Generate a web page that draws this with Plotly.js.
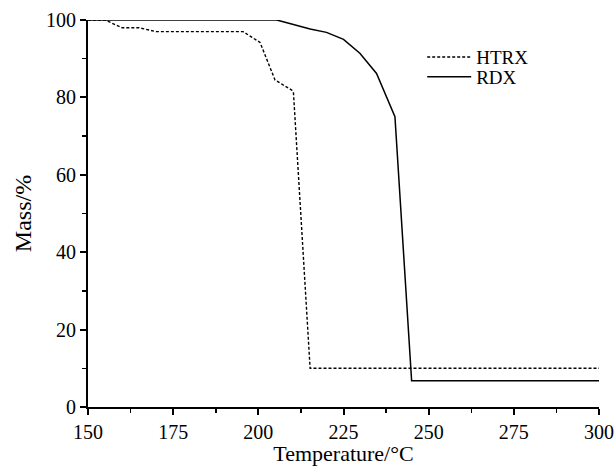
<!DOCTYPE html>
<html>
<head>
<meta charset="utf-8">
<script src="https://cdn.plot.ly/plotly-3.0.1.min.js"></script>
<style>html,body{margin:0;padding:0;background:#fff;}#chart{width:615px;height:466px;}</style>
</head>
<body>
<div id="chart"></div>
<script>
const htrxTemp = [150, 155, 160, 165, 170, 195.5, 200.5, 204.9, 209.8, 210.3, 215.2, 300];
const htrxMass = [100, 100, 98, 98, 97, 97, 94.2, 84.5, 81.9, 81.4, 10, 10];
const rdxTemp = [150, 205.4, 215.2, 220, 225, 229.8, 234.7, 240.1, 245, 300];
const rdxMass = [100, 100, 97.7, 96.8, 95, 91.4, 86.2, 75, 6.8, 6.8];
const seriesNames = ['HTRX', 'RDX'];
const xTicks = [150, 175, 200, 225, 250, 275, 300];
const yTicks = [0, 20, 40, 60, 80, 100];

const font = {family: '"Liberation Serif", "Times New Roman", serif', color: '#000'};

const traces = [
  {x: htrxTemp, y: htrxMass, name: seriesNames[0], mode: 'lines', legend: 'legend',
   line: {color: '#000', width: 1.4, dash: '3px,2px'}},
  {x: rdxTemp, y: rdxMass, name: seriesNames[1], mode: 'lines', legend: 'legend2',
   line: {color: '#000', width: 1.5}}
];

const legendBase = {x: 0.654, xanchor: 'left', yanchor: 'middle',
  bgcolor: 'rgba(0,0,0,0)', font: Object.assign({size: 19}, font), itemwidth: 44};

const layout = {
  width: 615, height: 466,
  margin: {l: 88, r: 16, t: 20, b: 59},
  paper_bgcolor: '#fff', plot_bgcolor: '#fff',
  font: Object.assign({size: 19}, font),
  showlegend: true,
  legend: Object.assign({y: 0.904}, legendBase),
  legend2: Object.assign({y: 0.853}, legendBase),
  xaxis: {
    range: [150, 300], tickvals: xTicks, ticktext: xTicks.map(String),
    showgrid: false, zeroline: false, showline: true, linecolor: '#000', linewidth: 2,
    ticks: 'outside', ticklen: 6, tickwidth: 2, tickcolor: '#000',
    minor: {dtick: 12.5, tick0: 150, ticks: 'outside', ticklen: 4, tickwidth: 1.5, tickcolor: '#000', showgrid: false},
    tickfont: Object.assign({size: 20}, font),
    title: {text: 'Temperature/°C', font: Object.assign({size: 22}, font), standoff: 7}
  },
  yaxis: {
    range: [0, 100], tickvals: yTicks, ticktext: yTicks.map(String),
    showgrid: false, zeroline: false, showline: true, linecolor: '#000', linewidth: 2,
    ticks: 'outside', ticklen: 6, tickwidth: 2, tickcolor: '#000',
    minor: {dtick: 10, tick0: 0, ticks: 'outside', ticklen: 4, tickwidth: 1.5, tickcolor: '#000', showgrid: false},
    tickfont: Object.assign({size: 20}, font),
    title: {text: 'Mass/%', font: Object.assign({size: 24}, font), standoff: 8}
  }
};

Plotly.newPlot('chart', traces, layout, {displayModeBar: false, staticPlot: true});
</script>
</body>
</html>
